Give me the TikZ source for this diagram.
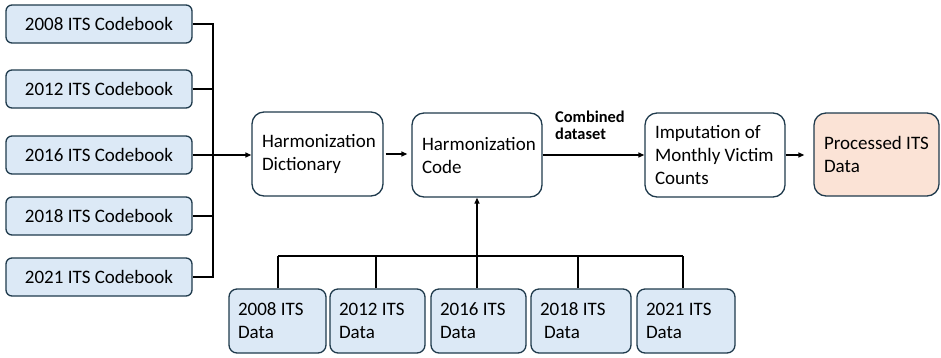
\documentclass[tikz,border=0pt]{standalone}
\usepackage{fontspec}
\setmainfont{Carlito}
\usetikzlibrary{arrows.meta}
\definecolor{edgeblue}{HTML}{1F3A4C}
\definecolor{boxblue}{HTML}{DCE9F6}
\definecolor{peach}{HTML}{FBE3D6}
\tikzset{
  base/.style={draw=edgeblue, line width=1.3pt, font=\fontsize{19}{23}\selectfont, inner sep=0pt},
  codebook/.style={base, rounded corners=6pt, fill=boxblue, minimum width=186pt, minimum height=38pt, align=center},
  procbox/.style={base, rounded corners=12pt, fill=white, minimum height=84pt, align=flush left, inner xsep=10pt},
  databox/.style={base, rounded corners=8pt, fill=boxblue, minimum height=64pt, align=flush left, inner xsep=9pt},
  conn/.style={line width=1.3pt, black},
  arr/.style={conn, -{Triangle[length=6pt,width=5pt]}}
}
\begin{document}
\begin{tikzpicture}[x=1pt, y=-1pt]
\useasboundingbox (0,0) rectangle (941,357);
\clip (0,0) rectangle (941,357);

% codebooks
\node[codebook] (cb1) at (99,24) {2008 ITS Codebook};
\node[codebook] (cb2) at (99,89) {2012 ITS Codebook};
\node[codebook] (cb3) at (99,155) {2016 ITS Codebook};
\node[codebook] (cb4) at (99,216) {2018 ITS Codebook};
\node[codebook] (cb5) at (99,277) {2021 ITS Codebook};

% processing steps
\node[procbox, minimum width=131pt, text width=111pt] (hd) at (317.5,154) {\mbox{Harmonization}\\Dictionary};
\node[procbox, minimum width=130pt, text width=110pt] (hc) at (477,155) {\mbox{Harmonization}\\Code};
\node[procbox, minimum width=140pt, text width=120pt] (imp) at (715,155) {\mbox{Imputation of}\\\mbox{Monthly Victim}\\Counts};
\node[procbox, fill=peach, minimum width=125pt, text width=105pt, minimum height=83pt] (proc) at (876.5,154.5) {\mbox{Processed ITS}\\Data};

\node[anchor=north west, align=flush left, inner sep=0pt, font=\fontsize{16.4}{17}\selectfont\bfseries] (lbl) at (555,111) {Combined\\dataset};

% data files
\node[databox, minimum width=97pt, text width=79pt] (d1) at (277.5,321) {\mbox{2008 ITS}\\Data};
\node[databox, minimum width=95pt, text width=77pt] (d2) at (377.5,321) {\raisebox{-2pt}{2012 ITS}\\\raisebox{-2pt}{Data}};
\node[databox, minimum width=95pt, text width=77pt] (d3) at (478.5,321) {\raisebox{1pt}{2016 ITS}\\\raisebox{1pt}{Data}};
\node[databox, minimum width=100pt, text width=82pt] (d4) at (581,321) {\mbox{2018 ITS}\\\hspace*{4pt}Data};
\node[databox, minimum width=98pt, text width=80pt] (d5) at (686,321) {\mbox{2021 ITS}\\Data};

% codebook bus
\coordinate (bt) at (213,24);
\coordinate (bb) at (213,277);
\draw[conn] (cb1.east) -- (bt) -- (bb) -- (cb5.east);
\draw[conn] (cb2.east) -- (cb2.east -| bt);
\draw[conn] (cb4.east) -- (cb4.east -| bt);
\draw[arr] (cb3.east) -- (cb3.east -| hd.west);

% main chain
\draw[arr, shorten <=2pt, shorten >=4pt] (hd.east) -- (hd.east -| hc.west);
\draw[arr] (hc.east) -- (hc.east -| imp.west);
\draw[arr, shorten >=9pt] (imp.east) -- (imp.east -| proc.west);

% data bus
\coordinate (bl) at (278,256);
\coordinate (br) at (683,256);
\draw[conn] (bl) -- (br);
\draw[conn] (d1.north -| bl) -- (bl);
\draw[conn] (d2.north -| 376,0) -- (376,256);
\draw[conn] (d3.north -| hc.south) -- (hc.south |- bl);
\draw[conn] (d4.north -| 578,0) -- (578,256);
\draw[conn] (d5.north -| br) -- (br);
\draw[arr] (hc.south |- bl) -- (hc.south);
\end{tikzpicture}
\end{document}
